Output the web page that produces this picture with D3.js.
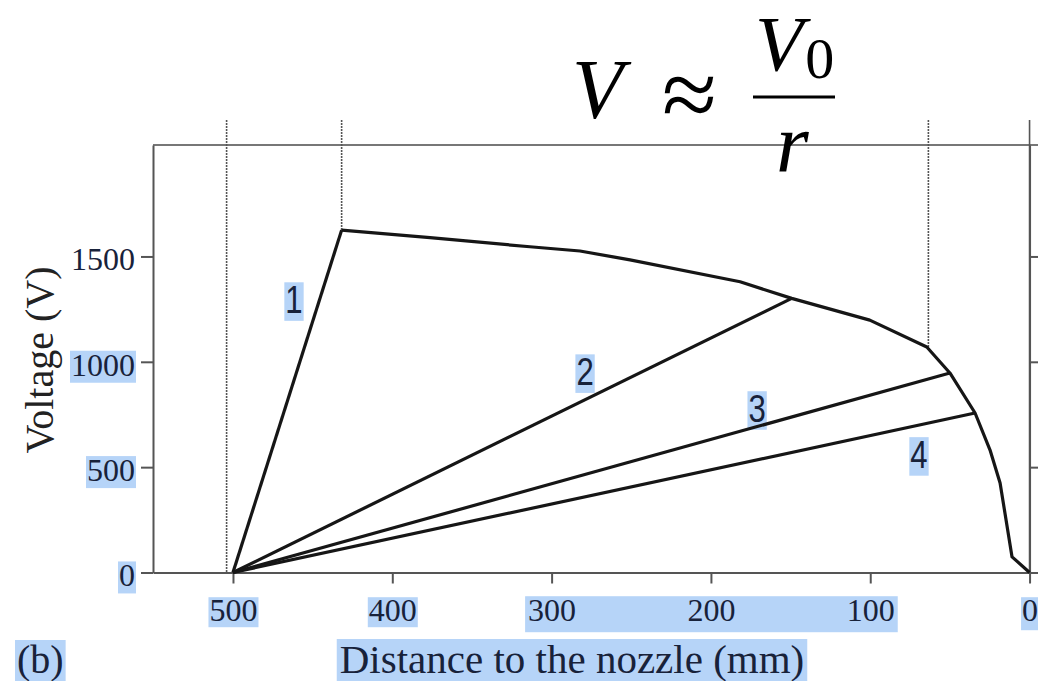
<!DOCTYPE html>
<html><head><meta charset="utf-8">
<script src="https://cdn.jsdelivr.net/npm/d3@7"></script>
<style>body{margin:0;background:#fff} svg{display:block}</style>
</head><body>
<script>
// Axis ticks
const distTicks = [500, 400, 300, 200, 100, 0];
const voltTicks = [0, 500, 1000, 1500];

// Envelope: peak voltage reached along the path to the nozzle
const envelopeDist = [431.8, 376.3, 313.6, 282.2, 250.8, 181.7, 149.3, 100.3, 64.5, 50, 34.2, 24.8, 18.5, 11, 0];
const envelopeVolt = [1625, 1589, 1546, 1526, 1484, 1380, 1301, 1198, 1070, 947, 757, 581, 425, 74, 0];

// Straight ramps starting at 500 mm, 0 V
const rayStartDist = 500, rayStartVolt = 0;
const rayNames = ["1", "2", "3", "4"];
const rayEndDist = [431.8, 149.3, 50, 34.2];
const rayEndVolt = [1625, 1301, 947, 757];
const rayLabelDist = [461.7, 279, 171, 69.4];
const rayLabelVolt = [1293, 951, 776, 558];

// Dotted guides: distance, and the voltage where each guide stops
const guideDist = [504, 431.8, 63.5, 0];
const guideVolt = [0, 1625, 1060, 0];

const W = 1038, H = 681;
const svg = d3.select("body").append("svg").attr("width", W).attr("height", H);

const x = d3.scaleLinear().domain([550.2, -5.3]).range([153, 1038]);
const y = d3.scaleLinear().domain([0, 2029]).range([572.5, 145]);

const serif = "'Liberation Serif', 'Times New Roman', serif";
const ink = "#18223a";
const hlColor = "#b6d4f8";

const hl = svg.append("g");      // text highlight boxes sit underneath everything
const plot = svg.append("g");
const textG = svg.append("g");

// Top frame line
plot.append("line").attr("x1", 153).attr("x2", W).attr("y1", y.range()[1]).attr("y2", y.range()[1])
  .attr("stroke", "#777").attr("stroke-width", 2);

// Dotted guides
guideDist.forEach((d, i) => {
  plot.append("line")
    .attr("x1", x(d)).attr("x2", x(d))
    .attr("y1", y.range()[1] - 25).attr("y2", y(guideVolt[i]))
    .attr("stroke", "#555").attr("stroke-width", 1.6)
    .attr("stroke-dasharray", i === 3 ? null : "2 1");
});

// Axes
const xAxis = plot.append("g").attr("transform", `translate(0,${y(0)})`)
  .call(d3.axisBottom(x).tickValues(distTicks).tickSize(11).tickSizeOuter(0).tickPadding(15).tickFormat(d3.format("d")));
const yAxis = plot.append("g").attr("transform", `translate(153,0)`)
  .call(d3.axisLeft(y).tickValues(voltTicks).tickSize(12).tickSizeOuter(0).tickPadding(6).tickFormat(d3.format("d")));
const rAxis = plot.append("g").attr("transform", `translate(${x(0)},0)`)
  .call(d3.axisRight(y).tickValues(voltTicks.slice(1)).tickSize(10).tickSizeOuter(0).tickFormat(""));

[xAxis, yAxis, rAxis].forEach(a => {
  a.selectAll("path.domain, line").attr("stroke", "#555").attr("stroke-width", 2);
  a.selectAll("text").attr("font-family", serif).attr("font-size", 32).attr("fill", ink);
});
yAxis.selectAll("text").attr("dy", "0.42em");

// Curves
const line = d3.line().x(d => x(d[0])).y(d => y(d[1]));
const envelope = envelopeDist.map((d, i) => [d, envelopeVolt[i]]);
plot.append("path").attr("d", line(envelope))
  .attr("fill", "none").attr("stroke", "#161616").attr("stroke-width", 3.2).attr("stroke-linejoin", "round");
rayNames.forEach((n, i) => {
  plot.append("path").attr("d", line([[rayStartDist, rayStartVolt], [rayEndDist[i], rayEndVolt[i]]]))
    .attr("fill", "none").attr("stroke", "#161616").attr("stroke-width", 3.2);
});

// Ramp labels
const rayTexts = rayNames.map((n, i) => textG.append("text")
  .attr("transform", `translate(${x(rayLabelDist[i])},${y(rayLabelVolt[i])}) scale(0.82,1)`)
  .attr("text-anchor", "middle").attr("dominant-baseline", "central")
  .attr("font-family", "'Liberation Sans', Arial, sans-serif").attr("font-size", 38)
  .attr("fill", ink).text(n));

// Axis titles
const xTitle = textG.append("text").attr("x", 572).attr("y", 673).attr("text-anchor", "middle")
  .attr("font-family", serif).attr("font-size", 41).attr("fill", ink).text("Distance to the nozzle (mm)");
textG.append("text").attr("transform", "translate(53,360) rotate(-90)").attr("text-anchor", "middle")
  .attr("font-family", serif).attr("font-size", 40).attr("fill", "#222").text("Voltage (V)");
const panel = textG.append("text").attr("x", 17).attr("y", 673)
  .attr("font-family", serif).attr("font-size", 40).attr("fill", ink).text("(b)");

// Formula V ≈ V0 / r
const f = textG.append("g").attr("font-family", serif).attr("fill", "#000");
f.append("text").attr("x", 572).attr("y", 118).attr("font-size", 84).attr("font-style", "italic").text("V");
f.append("text").attr("x", 662).attr("y", 128).attr("font-size", 100).text("≈");
f.append("line").attr("x1", 753).attr("x2", 835).attr("y1", 97).attr("y2", 97).attr("stroke", "#000").attr("stroke-width", 3);
const num = f.append("text").attr("x", 755).attr("y", 70).attr("font-size", 79).attr("font-style", "italic");
num.append("tspan").text("V");
num.append("tspan").attr("font-style", "normal").attr("font-size", 58).attr("dx", 2).attr("dy", 8).text("0");
f.append("text").attr("x", 776).attr("y", 172).attr("font-size", 84).attr("font-style", "italic").text("r");

// Highlight boxes behind selected texts
function highlight(nodes, padX, top, bottom) {
  const boxes = nodes.map(n => {
    const b = n.getBBox();
    const m = n.getCTM();
    return {x0: b.x * m.a + m.e, x1: (b.x + b.width) * m.a + m.e, y0: b.y * m.d + m.f, y1: (b.y + b.height) * m.d + m.f};
  });
  const x0 = d3.min(boxes, b => b.x0) - padX, x1 = d3.max(boxes, b => b.x1) + padX;
  const y0 = d3.min(boxes, b => b.y0) + top, y1 = d3.max(boxes, b => b.y1) + bottom;
  hl.append("rect").attr("x", x0).attr("y", y0).attr("width", x1 - x0).attr("height", y1 - y0).attr("fill", hlColor);
}
const xt = xAxis.selectAll(".tick text").nodes();
highlight([xt[0]], 1, 5, -1);
highlight([xt[1]], 1, 5, -1);
highlight([xt[2], xt[3], xt[4]], 3, 4, 4);
highlight([xt[5]], 1, 5, 2);
const yt = yAxis.selectAll(".tick text").nodes();
highlight([yt[0]], 1, 4, 0);
highlight([yt[1]], 1, 4, 0);
highlight([yt[2]], 1, 4, 0);
rayTexts.forEach(t => highlight([t.node()], 1, 3, 0));
highlight([xTitle.node()], 3, 3, 10);
highlight([panel.node()], 2, 3, 10);
</script>
</body></html>
